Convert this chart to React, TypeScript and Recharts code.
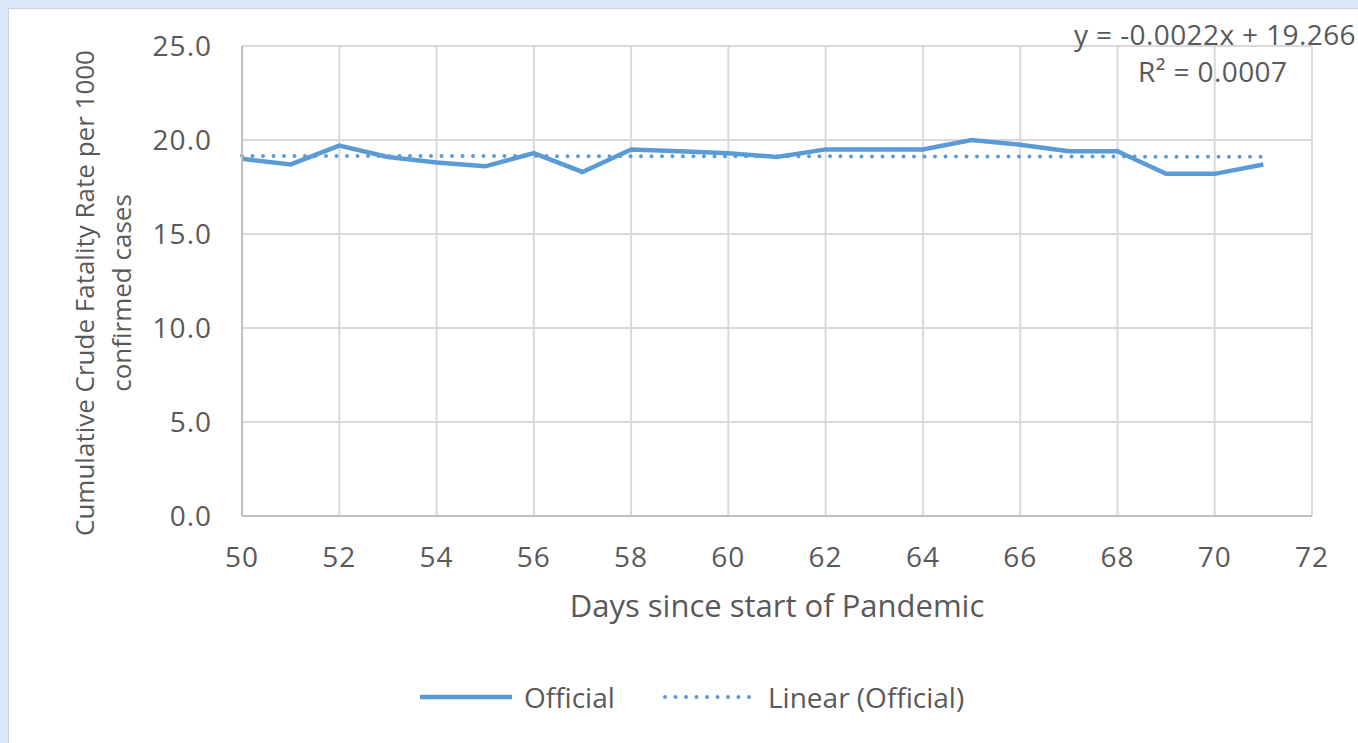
import React from 'react';
import { LineChart, Line, XAxis, YAxis, CartesianGrid, Legend } from 'recharts';

const days = [50, 51, 52, 53, 54, 55, 56, 57, 58, 59, 60, 61, 62, 63, 64, 65, 66, 67, 68, 69, 70, 71];
const officialValues = [19.0, 18.7, 19.7, 19.1, 18.8, 18.6, 19.3, 18.3, 19.5, 19.4, 19.3, 19.1, 19.5, 19.5, 19.5, 20.0, 19.75, 19.4, 19.4, 18.2, 18.2, 18.7];
const trendDays = [50, 71];
const trendValues = [19.156, 19.110];
const xTicks = [50, 52, 54, 56, 58, 60, 62, 64, 66, 68, 70, 72];
const yTicks = [0, 5, 10, 15, 20, 25];
const yTitleLines = ['Cumulative Crude Fatality Rate per 1000', 'confirmed cases'];
const xTitle = 'Days since start of Pandemic';
const equationText = 'y = -0.0022x + 19.266';
const rSquaredText = 'R² = 0.0007';

const officialData = days.map((d, i) => ({ day: d, official: officialValues[i] }));
const trendData = trendDays.map((d, i) => ({ day: d, trend: trendValues[i] }));

const BLUE = '#5b9bd5';
const TEXT = '#595959';
const FONT = '"Open Sans", "Segoe UI", sans-serif';

const YTitle = (props: any) => {
  const vb = props.viewBox || { x: 0, y: 46, width: 0, height: 470 };
  const cy = vb.y + vb.height / 2 + 12;
  return (
    <g>
      <text x={84} y={cy} transform={`rotate(-90 84 ${cy})`} textAnchor="middle" dominantBaseline="central" fill={TEXT} fontSize={26} fontFamily={FONT}>{yTitleLines[0]}</text>
      <text x={121} y={cy} transform={`rotate(-90 121 ${cy})`} textAnchor="middle" dominantBaseline="central" fill={TEXT} fontSize={26} fontFamily={FONT}>{yTitleLines[1]}</text>
    </g>
  );
};

const LegendContent = () => (
  <svg width={1358} height={50} style={{ display: 'block' }}>
    <line x1={420} y1={22} x2={512} y2={22} stroke={BLUE} strokeWidth={4.5} />
    <text x={524} y={22} dominantBaseline="central" fill={TEXT} fontSize={28} fontFamily={FONT}>Official</text>
    <line x1={665} y1={22} x2={750} y2={22} stroke={BLUE} strokeWidth={4} strokeDasharray="0 10.5" strokeLinecap="round" />
    <text x={768} y={22} dominantBaseline="central" fill={TEXT} fontSize={28} fontFamily={FONT}>Linear (Official)</text>
  </svg>
);

export default function App() {
  return (
    <div style={{ position: 'fixed', left: 0, top: 0, width: 1358, height: 743, background: '#dce9f9', overflow: 'hidden' }}>
      <div style={{ position: 'absolute', left: 8, top: 8, width: 1360, height: 745, background: '#ffffff', border: '1px solid #d0d0d0' }} />
      <div style={{ position: 'absolute', left: 0, top: 0 }}>
        <LineChart width={1358} height={743} margin={{ top: 46, right: 46, bottom: 167, left: 162 }}>
          <CartesianGrid stroke="#d9d9d9" strokeWidth={2} />
          <XAxis
            dataKey="day"
            type="number"
            domain={[50, 72]}
            ticks={xTicks}
            allowDuplicatedCategory={false}
            stroke="#bfbfbf"
            strokeWidth={2}
            tickLine={false}
            tickSize={0}
            tickMargin={31}
            height={60}
            tick={{ fill: TEXT, fontSize: 28, fontFamily: FONT, letterSpacing: 1 }}
            label={{ value: xTitle, position: 'insideBottom', offset: -41, fill: TEXT, fontSize: 31, fontFamily: FONT }}
          />
          <YAxis
            type="number"
            domain={[0, 25]}
            ticks={yTicks}
            width={80}
            stroke="#bfbfbf"
            strokeWidth={2}
            tickLine={false}
            tickSize={0}
            tickMargin={30}
            tickFormatter={(v: number) => v.toFixed(1)}
            tick={{ fill: TEXT, fontSize: 28, fontFamily: FONT, letterSpacing: 1 }}
            label={{ content: YTitle }}
          />
          <Line data={officialData} dataKey="official" name="Official" stroke={BLUE} strokeWidth={4.5} dot={false} activeDot={false} isAnimationActive={false} />
          <Line data={trendData} dataKey="trend" name="Linear (Official)" stroke={BLUE} strokeWidth={4} strokeDasharray="0 10.5" strokeLinecap="round" dot={false} activeDot={false} isAnimationActive={false} />
          <Legend layout="horizontal" verticalAlign="middle" align="center" wrapperStyle={{ left: 0, top: 675, width: 1358 }} content={LegendContent} />
        </LineChart>
      </div>
      <div style={{ position: 'absolute', right: 2, top: 16, color: TEXT, fontSize: 28, fontFamily: FONT, whiteSpace: 'nowrap', lineHeight: '36px', letterSpacing: 0.4 }}>{equationText}</div>
      <div style={{ position: 'absolute', left: 1138, top: 53, color: TEXT, fontSize: 28, fontFamily: FONT, whiteSpace: 'nowrap', lineHeight: '36px', letterSpacing: 0.4 }}>{rSquaredText}</div>
    </div>
  );
}
